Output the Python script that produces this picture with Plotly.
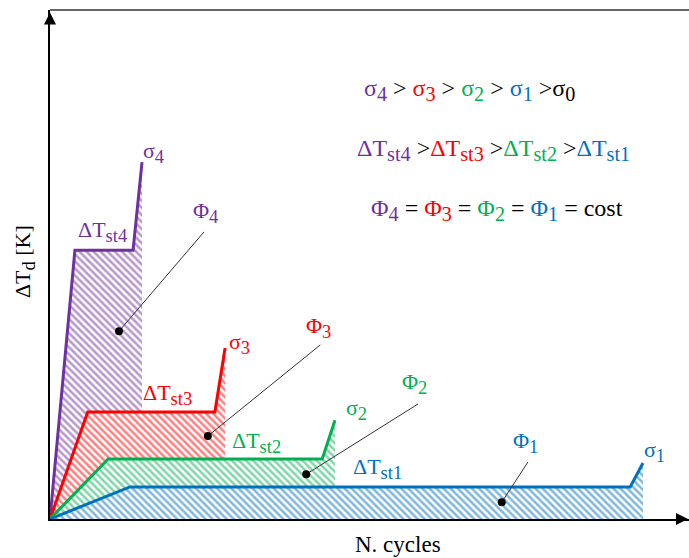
import plotly.graph_objects as go

# ---- data (abstract units: N. cycles 0-100, ΔT_d 0-100) ----
names = ["σ4", "σ3", "σ2", "σ1"]
colors = ["#7030A0", "#FF0000", "#00B050", "#0070C0"]
x_s4 = [0, 3.9, 13.0, 14.4]
y_s4 = [0, 52.8, 52.8, 70.1]
x_s3 = [0, 5.9, 25.8, 27.4]
y_s3 = [0, 21.0, 21.0, 33.6]
x_s2 = [0, 9.1, 42.6, 44.6]
y_s2 = [0, 11.8, 11.8, 19.4]
x_s1 = [0, 12.5, 90.8, 92.8]
y_s1 = [0, 6.3, 6.3, 11.0]
xs = [x_s4, x_s3, x_s2, x_s1]
ys = [y_s4, y_s3, y_s2, y_s1]

# leader lines for Φ labels: (label end) -> (dot)
lead_x0 = [24.1, 42.3, 57.6, 74.8]
lead_y0 = [56.4, 34.2, 22.6, 11.2]
dot_x = [10.8, 24.7, 40.1, 70.7]
dot_y = [36.9, 16.3, 8.8, 3.3]

FONT = "Liberation Serif"
FS = 22
FS_LEG = 24

fig = go.Figure()

# hatched fills (drawn first, later ones hide earlier ones)
for x, y, c in zip(xs, ys, colors):
    fig.add_trace(go.Scatter(
        x=x, y=y, mode="none", fill="tozeroy",
        fillcolor="white",
        fillpattern=dict(shape="\\", fgcolor=c, bgcolor="white",
                         size=5, solidity=0.5),
        hoverinfo="skip", showlegend=False))

# curves on top
for x, y, c, n in zip(xs, ys, colors, names):
    fig.add_trace(go.Scatter(
        x=x, y=y, mode="lines", name=n,
        line=dict(color=c, width=3), showlegend=False))

# leader lines and dots
for x0, y0, x1, y1 in zip(lead_x0, lead_y0, dot_x, dot_y):
    fig.add_trace(go.Scatter(x=[x0, x1], y=[y0, y1], mode="lines",
                             line=dict(color="#333333", width=1),
                             hoverinfo="skip", showlegend=False))
fig.add_trace(go.Scatter(x=dot_x, y=dot_y, mode="markers",
                         marker=dict(color="black", size=8),
                         hoverinfo="skip", showlegend=False))


def sub(t):
    return f'<sub><span style="font-size:120%">{t}</span></sub>'


anns = []
def lab(x, y, text, color, size=FS):
    anns.append(dict(x=x, y=y, xref="x", yref="y", text=text, showarrow=False,
                     xanchor="left", yanchor="middle",
                     font=dict(family=FONT, size=size, color=color)))

P, R, G, B = colors
lab(14.2, 72.0, "σ" + sub("4"), P)
lab(4.0, 56.5, "ΔT" + sub("st4"), P)
lab(22.0, 60.3, "Φ" + sub("4"), P)
lab(27.7, 34.5, "σ" + sub("3"), R)
lab(14.3, 24.5, "ΔT" + sub("st3"), R)
lab(39.8, 37.7, "Φ" + sub("3"), R)
lab(28.2, 15.0, "ΔT" + sub("st2"), G)
lab(46.0, 21.5, "σ" + sub("2"), G)
lab(54.8, 26.7, "Φ" + sub("2"), G)
lab(72.1, 15.0, "Φ" + sub("1"), B)
lab(92.6, 13.2, "σ" + sub("1"), B)
lab(47.1, 10.0, "ΔT" + sub("st1"), B)

def sp(c, t):
    return f'<span style="color:{c}">{t}</span>'

line1 = (sp(P, "σ" + sub("4")) + " > " + sp(R, "σ" + sub("3")) + " > " +
         sp(G, "σ" + sub("2")) + " > " + sp(B, "σ" + sub("1")) + " >σ" + sub("0"))
line2 = (sp(P, "ΔT" + sub("st4")) + " >" + sp(R, "ΔT" + sub("st3")) + " >" +
         sp(G, "ΔT" + sub("st2")) + " >" + sp(B, "ΔT" + sub("st1")))
line3 = (sp(P, "Φ" + sub("4")) + " = " + sp(R, "Φ" + sub("3")) + " = " +
         sp(G, "Φ" + sub("2")) + " = " + sp(B, "Φ" + sub("1")) + " = cost")
lab(48.8, 84.3, line1, "black", FS_LEG)
lab(47.8, 72.5, line2, "black", FS_LEG)
lab(49.9, 60.7, line3, "black", FS_LEG)

# axis titles
anns.append(dict(x=54.5, y=-0.051, xref="x", yref="paper", text="N. cycles",
                 showarrow=False, xanchor="center", yanchor="middle",
                 font=dict(family=FONT, size=23, color="black")))
anns.append(dict(x=-0.039, y=0.505, xref="paper", yref="paper",
                 text="ΔT" + sub("d") + " [K]", textangle=-90, showarrow=False,
                 xanchor="center", yanchor="middle",
                 font=dict(family=FONT, size=22, color="black")))

# axis arrows
anns.append(dict(x=1, y=0, xref="paper", yref="paper", ax=-12, ay=0,
                 text="", showarrow=True, arrowhead=2, arrowsize=1.2,
                 arrowwidth=2, arrowcolor="black"))
anns.append(dict(x=0, y=0.995, xref="paper", yref="paper", ax=0, ay=12,
                 text="", showarrow=True, arrowhead=2, arrowsize=1.2,
                 arrowwidth=2, arrowcolor="black"))

fig.update_layout(
    width=689, height=558,
    margin=dict(l=50, r=0, t=10, b=39),
    paper_bgcolor="white", plot_bgcolor="white",
    font=dict(family=FONT),
    annotations=anns,
    shapes=[dict(type="line", xref="paper", yref="paper", x0=0, x1=1, y0=1, y1=1,
                 line=dict(color="#333333", width=1.5))],
    xaxis=dict(range=[0, 100], showline=True, linecolor="black", linewidth=2,
               showgrid=False, zeroline=False, showticklabels=False, ticks=""),
    yaxis=dict(range=[0, 100], showline=True, linecolor="black", linewidth=2,
               showgrid=False, zeroline=False, showticklabels=False, ticks=""),
)

fig.write_html("out.html")
